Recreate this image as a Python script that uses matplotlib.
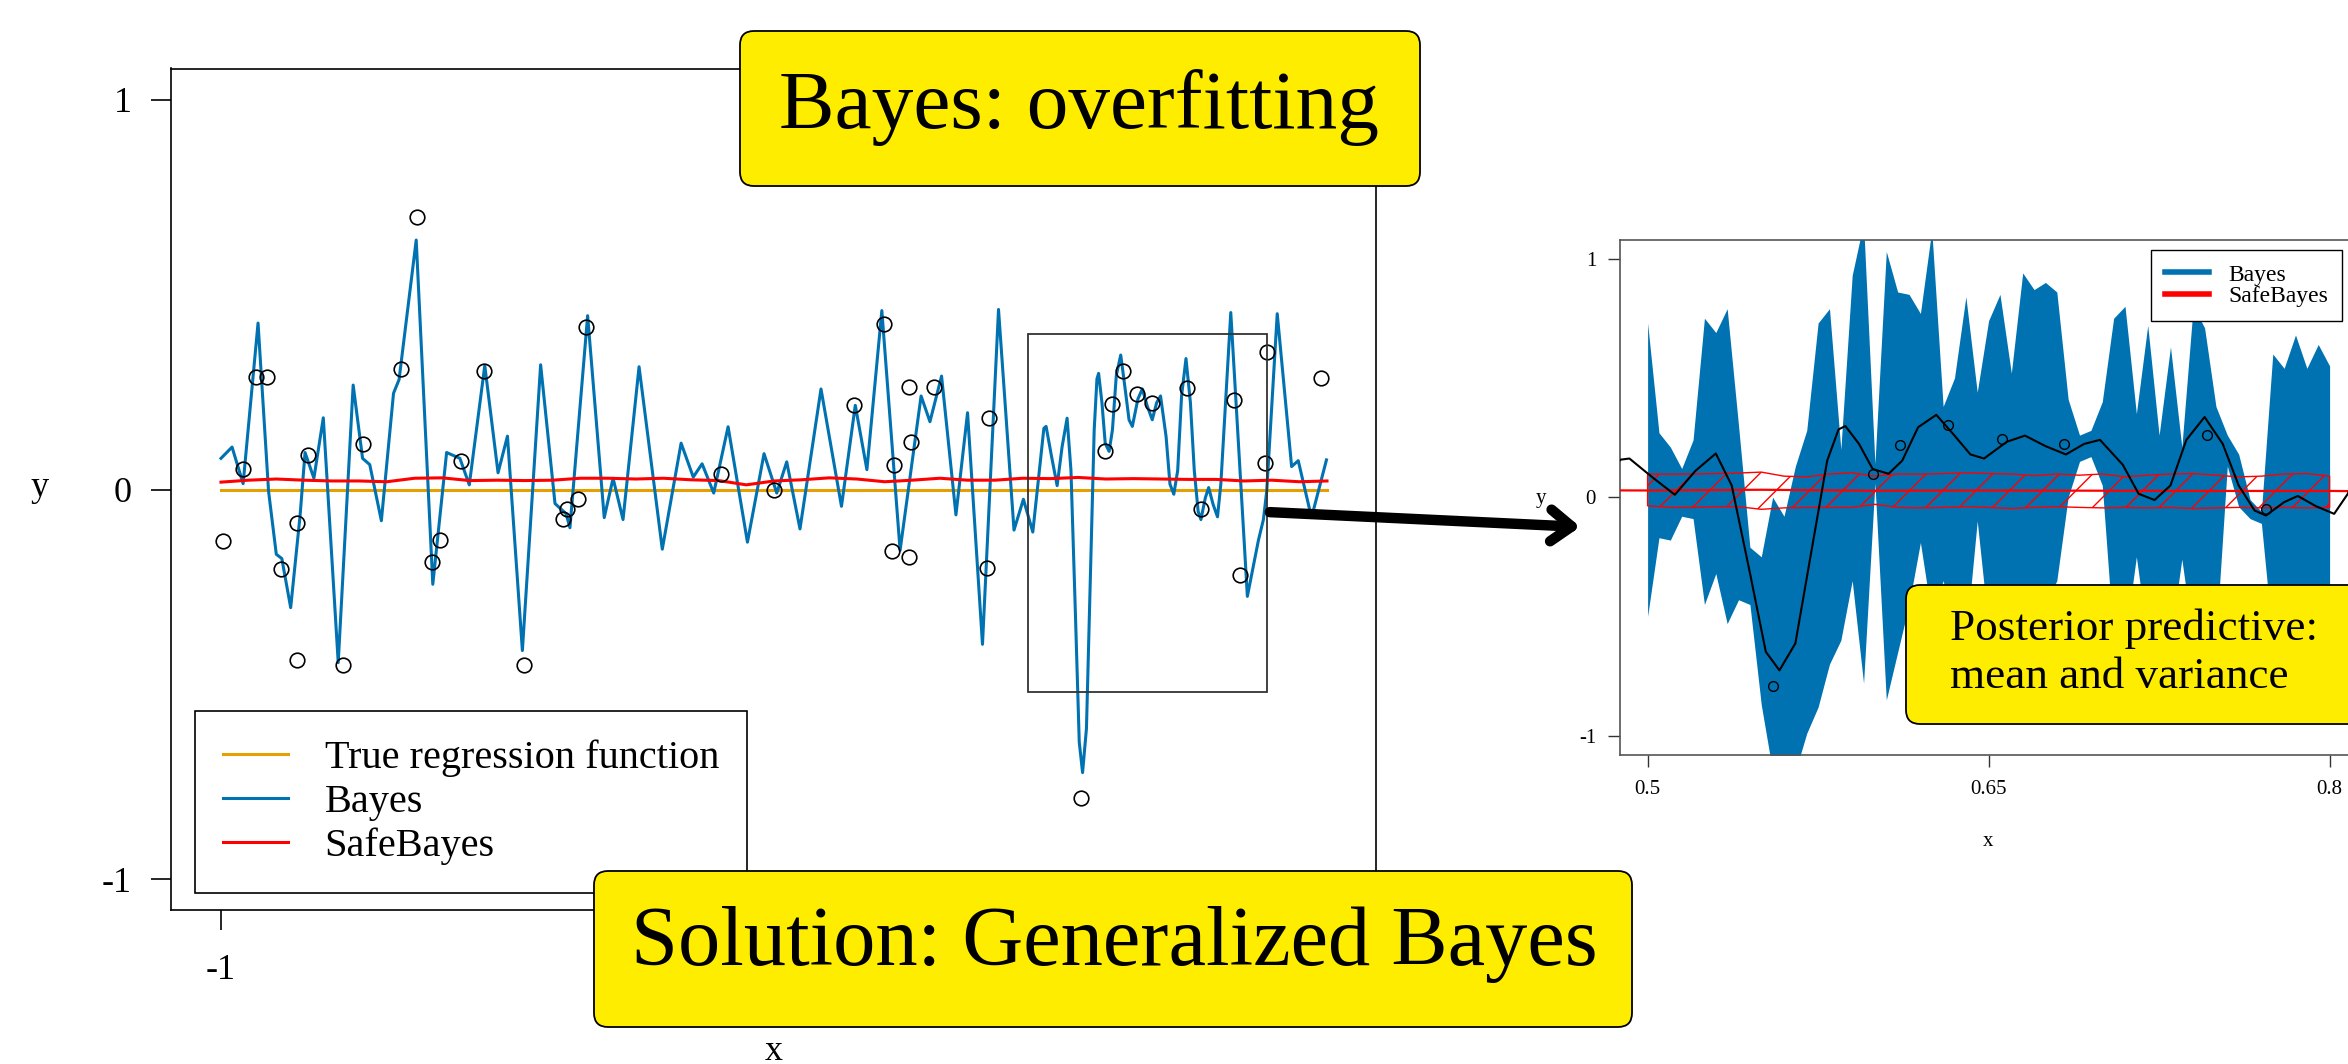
import matplotlib
matplotlib.use("Agg")
import matplotlib.pyplot as plt
from matplotlib.patches import FancyBboxPatch, Rectangle, FancyArrowPatch
from matplotlib.lines import Line2D

plt.rcParams['font.family'] = ['Liberation Serif', 'DejaVu Serif']
plt.rcParams['axes.unicode_minus'] = False
plt.rcParams['hatch.linewidth'] = 1.0

BLUE = '#0072B2'
ORANGE = '#E69F00'
RED = '#FF0000'
YELLOW = '#FFED00'

# ---- data ----
# observed points
obs_x = [-0.996, -0.961, -0.937, -0.916, -0.892, -0.862, -0.862, -0.842, -0.779, -0.743,
         -0.675, -0.645, -0.619, -0.604, -0.566, -0.524, -0.452, -0.381, -0.374, -0.354,
         -0.340, -0.096, 0.000, 0.145, 0.199, 0.214, 0.217, 0.244, 0.245, 0.247,
         0.290, 0.385, 0.389, 0.555, 0.599, 0.611, 0.632, 0.656, 0.683, 0.746,
         0.772, 0.832, 0.842, 0.887, 0.892, 0.989]
obs_y = [-0.132, 0.053, 0.289, 0.289, -0.203, -0.086, -0.436, 0.088, -0.449, 0.118,
         0.308, 0.699, -0.185, -0.130, 0.072, 0.305, -0.451, -0.075, -0.051, -0.025,
         0.418, 0.041, -0.001, 0.216, 0.425, -0.158, 0.064, -0.174, 0.263, 0.121,
         0.263, -0.201, 0.184, -0.790, 0.098, 0.219, 0.303, 0.244, 0.223, 0.260,
         -0.051, 0.229, -0.219, 0.067, 0.352, 0.286]

# Bayes posterior mean (overfitting curve)
bayes_x = [-1.000, -0.980, -0.960, -0.933, -0.914, -0.900, -0.890, -0.874, -0.857, -0.848,
           -0.832, -0.815, -0.788, -0.761, -0.744, -0.731, -0.710, -0.688, -0.678, -0.647,
           -0.617, -0.592, -0.568, -0.551, -0.523, -0.499, -0.482, -0.455, -0.422, -0.396,
           -0.376, -0.369, -0.337, -0.307, -0.291, -0.273, -0.244, -0.202, -0.168, -0.146,
           -0.130, -0.109, -0.083, -0.048, -0.018, 0.005, 0.023, 0.047, 0.085, 0.122,
           0.147, 0.168, 0.195, 0.228, 0.266, 0.282, 0.303, 0.329, 0.350, 0.377,
           0.406, 0.434, 0.451, 0.468, 0.488, 0.492, 0.502, 0.512, 0.521, 0.530,
           0.537, 0.545, 0.552, 0.558, 0.565, 0.572, 0.579, 0.584, 0.587, 0.593,
           0.599, 0.606, 0.612, 0.619, 0.627, 0.635, 0.642, 0.648, 0.658, 0.666,
           0.675, 0.684, 0.692, 0.699, 0.709, 0.716, 0.723, 0.730, 0.737, 0.745,
           0.753, 0.760, 0.767, 0.772, 0.780, 0.786, 0.794, 0.802, 0.808, 0.826,
           0.856, 0.876, 0.885, 0.891, 0.910, 0.936, 0.948, 0.972, 0.999]
bayes_y = [0.080, 0.109, 0.015, 0.427, -0.004, -0.166, -0.177, -0.303, -0.067, 0.095,
           0.029, 0.184, -0.444, 0.268, 0.080, 0.064, -0.080, 0.247, 0.282, 0.640,
           -0.243, 0.095, 0.080, 0.012, 0.318, 0.043, 0.137, -0.413, 0.320, -0.036,
           -0.062, -0.098, 0.446, -0.072, 0.029, -0.077, 0.315, -0.153, 0.119, 0.032,
           0.066, -0.009, 0.161, -0.135, 0.092, -0.009, 0.071, -0.101, 0.258, -0.043,
           0.216, 0.051, 0.459, -0.156, 0.240, 0.174, 0.291, -0.065, 0.197, -0.397,
           0.462, -0.104, -0.025, -0.109, 0.157, 0.162, 0.084, 0.010, 0.110, 0.183,
           0.049, -0.317, -0.648, -0.726, -0.613, -0.230, 0.153, 0.284, 0.298, 0.223,
           0.118, 0.098, 0.153, 0.293, 0.345, 0.258, 0.179, 0.162, 0.232, 0.258,
           0.214, 0.179, 0.223, 0.240, 0.136, 0.014, -0.012, 0.049, 0.240, 0.336,
           0.223, 0.049, -0.056, -0.077, -0.021, 0.005, -0.038, -0.070, 0.014, 0.454,
           -0.274, -0.130, -0.077, -0.004, 0.451, 0.059, 0.074, -0.072, 0.076]

# SafeBayes posterior mean
safe_x = [-1.00, -0.95, -0.90, -0.85, -0.80, -0.75, -0.70, -0.65, -0.60, -0.55,
          -0.50, -0.45, -0.40, -0.35, -0.30, -0.25, -0.20, -0.15, -0.10, -0.05,
          0.00, 0.05, 0.10, 0.15, 0.20, 0.25, 0.30, 0.35, 0.40, 0.45,
          0.50, 0.55, 0.60, 0.65, 0.70, 0.75, 0.80, 0.85, 0.90, 0.95, 1.00]
safe_y = [0.019, 0.024, 0.027, 0.024, 0.022, 0.022, 0.020, 0.029, 0.030, 0.023,
          0.024, 0.023, 0.024, 0.029, 0.029, 0.027, 0.029, 0.025, 0.023, 0.012,
          0.022, 0.025, 0.030, 0.027, 0.020, 0.024, 0.029, 0.024, 0.024, 0.029,
          0.028, 0.031, 0.027, 0.028, 0.027, 0.026, 0.026, 0.022, 0.024, 0.020, 0.022]

# true regression function
true_x = [-1.0, 1.0]
true_y = [0.0, 0.0]

# Bayes predictive band (zoomed panel)
band_x = [0.500, 0.505, 0.510, 0.515, 0.520, 0.525, 0.530, 0.535, 0.540, 0.545,
          0.550, 0.555, 0.560, 0.565, 0.570, 0.575, 0.580, 0.585, 0.590, 0.595,
          0.600, 0.605, 0.610, 0.615, 0.620, 0.625, 0.630, 0.635, 0.640, 0.645,
          0.650, 0.655, 0.660, 0.665, 0.670, 0.675, 0.680, 0.685, 0.690, 0.695,
          0.700, 0.705, 0.710, 0.715, 0.720, 0.725, 0.730, 0.735, 0.740, 0.745,
          0.750, 0.755, 0.760, 0.765, 0.770, 0.775, 0.780, 0.785, 0.790, 0.795, 0.800]
band_hi = [0.73, 0.27, 0.21, 0.12, 0.24, 0.75, 0.69, 0.79, 0.30, -0.21,
           -0.25, 0.00, -0.08, 0.13, 0.28, 0.73, 0.79, 0.20, 0.93, 1.15,
           0.14, 1.03, 0.86, 0.85, 0.77, 1.12, 0.38, 0.50, 0.84, 0.44,
           0.74, 0.85, 0.52, 0.94, 0.87, 0.90, 0.86, 0.41, 0.26, 0.28,
           0.40, 0.75, 0.80, 0.35, 0.72, 0.26, 0.63, 0.21, 0.80, 0.71,
           0.38, 0.26, 0.18, -0.01, -0.06, 0.60, 0.54, 0.68, 0.54, 0.64, 0.55]
band_lo = [-0.50, -0.17, -0.18, -0.08, -0.09, -0.45, -0.32, -0.53, -0.43, -0.45,
           -0.87, -1.15, -1.15, -1.15, -0.99, -0.88, -0.70, -0.60, -0.35, -0.78,
           0.06, -0.85, -0.65, -0.45, -0.19, -0.50, -0.35, -0.55, -0.60, -0.10,
           -0.55, -0.60, -0.50, -0.60, -0.55, -0.45, -0.35, 0.00, 0.15, 0.17,
           0.05, -0.60, -0.60, -0.25, -0.60, -0.36, -0.60, -0.26, -0.60, -0.36,
           -0.60, 0.13, -0.04, -0.09, -0.11, -0.60, -0.60, -0.60, -0.60, -0.60, -0.60]

# SafeBayes predictive band (zoomed panel)
sband_x = [0.50, 0.51, 0.52, 0.53, 0.54, 0.55, 0.56, 0.57, 0.58, 0.59, 0.60,
           0.61, 0.62, 0.63, 0.64, 0.65, 0.66, 0.67, 0.68, 0.69, 0.70,
           0.71, 0.72, 0.73, 0.74, 0.75, 0.76, 0.77, 0.78, 0.79, 0.80]
sband_hi = [0.097, 0.096, 0.097, 0.099, 0.101, 0.105, 0.088, 0.085, 0.097, 0.102, 0.088,
            0.097, 0.096, 0.099, 0.102, 0.099, 0.097, 0.090, 0.097, 0.092, 0.097,
            0.085, 0.092, 0.097, 0.099, 0.092, 0.085, 0.088, 0.097, 0.099, 0.088]
sband_lo = [-0.036, -0.043, -0.043, -0.040, -0.040, -0.051, -0.045, -0.043, -0.043, -0.043, -0.030,
            -0.043, -0.045, -0.043, -0.040, -0.043, -0.048, -0.043, -0.040, -0.043, -0.045,
            -0.043, -0.045, -0.043, -0.048, -0.045, -0.043, -0.045, -0.043, -0.045, -0.043]

# zoom window drawn on the left panel
zoom_box = (0.459, -0.519, 0.432, 0.918)

W, H = 2348, 1064
fig = plt.figure(figsize=(W / 100, H / 100), dpi=100)

# ---------- left panel ----------
ax = fig.add_axes([171 / W, 1 - 910 / H, 1205 / W, 841.5 / H])
ax.plot(true_x, true_y, color=ORANGE, lw=2.2, label='True regression function', zorder=2)
ax.plot(bayes_x, bayes_y, color=BLUE, lw=2.2, label='Bayes', zorder=3)
ax.plot(safe_x, safe_y, color=RED, lw=2.2, label='SafeBayes', zorder=4)
ax.plot(obs_x, obs_y, 'o', ms=10.5, mfc='none', mec='black', mew=1.2, zorder=5)
ax.add_patch(Rectangle(zoom_box[:2], zoom_box[2], zoom_box[3], fill=False,
                       ec='#333333', lw=1.3, zorder=6))
ax.set_xlim(-1.0904, 1.0886)
ax.set_ylim(-1.0785, 1.080)
# the 0 and 1 labels sit under the yellow call-out in the original
ax.set_xticks([-1, 0, 1], ['-1', '', ''])
ax.set_yticks([-1, 0, 1], ['-1', '0', '1'])
ax.tick_params(axis='both', direction='out', length=14.4, width=1.2, labelsize=26, pad=14)
ax.tick_params(axis='x', pad=17)
for s in ax.spines.values():
    s.set_linewidth(1.2)
ax.set_xlabel('x', fontsize=26)
ax.xaxis.set_label_coords(0.5004, -0.168)
ax.xaxis.label.set_va('center')
ax.set_ylabel('y', fontsize=26, rotation=0, va='center', ha='center')
ax.yaxis.set_label_coords(-0.1087, 0.5015)
leg = ax.legend(loc='lower left', bbox_to_anchor=(0.0199, 0.0202), borderaxespad=0,
                fontsize=29, fancybox=False, edgecolor='black', framealpha=1,
                handlelength=1.62, handletextpad=0.9, borderpad=0.7, labelspacing=0.16)
leg.get_frame().set_linewidth(1.2)

# ---------- right panel ----------
ax2 = fig.add_axes([1620 / W, 1 - 754.8 / H, 737 / W, 515.3 / H])
ax2.fill_between(band_x, band_lo, band_hi, color=BLUE, lw=0, zorder=1)
ax2.fill_between(sband_x, sband_lo, sband_hi, facecolor='none', edgecolor=RED,
                 hatch='/', lw=1.0, zorder=2)
ax2.plot(safe_x, safe_y, color=RED, lw=1.6, zorder=3)
ax2.plot(bayes_x, bayes_y, color='black', lw=1.5, zorder=4)
ax2.plot(obs_x, obs_y, 'o', ms=7, mfc='none', mec='black', mew=1.0, zorder=5)
ax2.set_xlim(0.48786, 0.81205)
ax2.set_ylim(-1.08, 1.08)
ax2.set_xticks([0.5, 0.65, 0.8], ['0.5', '0.65', '0.8'])
ax2.set_yticks([-1, 0, 1], ['-1', '0', '1'])
ax2.tick_params(axis='both', direction='out', length=8.6, width=1.0, labelsize=15,
                colors='#333333', labelcolor='black')
ax2.tick_params(axis='x', pad=9.4)
ax2.tick_params(axis='y', pad=8.6)
for s in ax2.spines.values():
    s.set_linewidth(1.2)
    s.set_color('#555555')
ax2.set_xlabel('x', fontsize=15)
ax2.xaxis.set_label_coords(0.4993, -0.169)
ax2.xaxis.label.set_va('center')
ax2.set_ylabel('y', fontsize=15, rotation=0, va='center', ha='center')
ax2.yaxis.set_label_coords(-0.1077, 0.497)
h2 = [Line2D([], [], color=BLUE, lw=4), Line2D([], [], color=RED, lw=4)]
leg2 = ax2.legend(h2, ['Bayes', 'SafeBayes'], loc='upper right',
                  bbox_to_anchor=(0.9797, 0.9796), borderaxespad=0, fontsize=17,
                  fancybox=False, edgecolor='black', framealpha=1, handlelength=1.85,
                  handletextpad=0.8, borderpad=0.6, labelspacing=0.0)
leg2.get_frame().set_linewidth(1.0)


# ---------- yellow call-outs and arrow (pixel coordinates, top-left origin) ----------
def callout(x0, y0, x1, y1):
    p = FancyBboxPatch((x0, H - y1), x1 - x0, y1 - y0,
                       boxstyle='round,pad=0,rounding_size=14',
                       fc=YELLOW, ec='black', lw=1.3, transform=None, zorder=10)
    fig.add_artist(p)


callout(740, 31, 1420, 186)
callout(594, 871, 1632, 1027)
callout(1906, 585, 2370, 724)

fig.text(779 / W, 1 - 128 / H, 'Bayes: overfitting', fontsize=60, va='baseline', zorder=11)
fig.text(631 / W, 1 - 965 / H, 'Solution: Generalized Bayes', fontsize=60.8,
         va='baseline', zorder=11)
fig.text(1950 / W, 1 - 640 / H, 'Posterior predictive:', fontsize=32.5,
         va='baseline', zorder=11)
fig.text(1950 / W, 1 - 688 / H, 'mean and variance', fontsize=32.5,
         va='baseline', zorder=11)

arrow = FancyArrowPatch((1267, H - 512), (1583, H - 527), transform=None,
                        arrowstyle='->,head_length=0.5,head_width=0.38',
                        mutation_scale=30, lw=7.5, color='black',
                        capstyle='round', joinstyle='round', zorder=9)
fig.add_artist(arrow)

fig.savefig('out.png', dpi=100)
